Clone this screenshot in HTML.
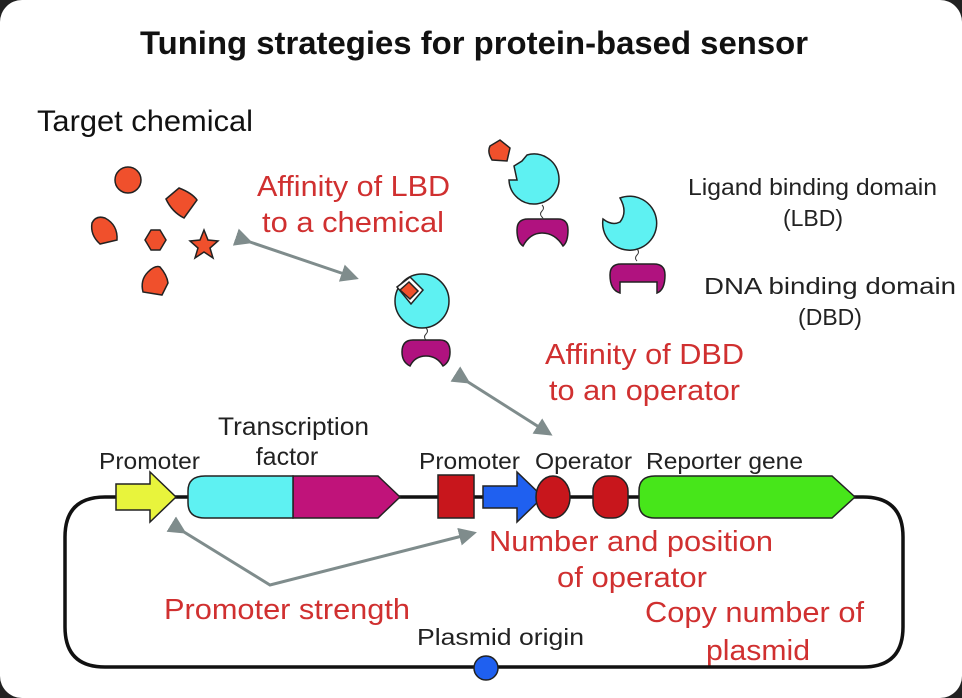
<!DOCTYPE html>
<html><head><style>
html,body{margin:0;padding:0;background:#222;}
svg{display:block}
text{font-family:"Liberation Sans",sans-serif;}
</style></head><body>
<svg width="962" height="698" viewBox="0 0 962 698" xmlns="http://www.w3.org/2000/svg">
<defs>
<marker id="ah" markerWidth="6" markerHeight="6" refX="5" refY="3" orient="auto" markerUnits="strokeWidth">
<path d="M0,0 L6,3 L0,6 z" fill="#7f8c8c"/></marker>
</defs>
<rect x="0" y="0" width="962" height="698" rx="22" fill="#fff"/>
<text x="474" y="54" font-size="32" font-weight="bold" text-anchor="middle" fill="#111" textLength="668" lengthAdjust="spacingAndGlyphs">Tuning strategies for protein-based sensor</text>
<text x="37" y="131" font-size="30" fill="#111" textLength="216" lengthAdjust="spacingAndGlyphs">Target chemical</text>
<g fill="#222" font-size="23">
<text x="688" y="195" textLength="249" lengthAdjust="spacingAndGlyphs">Ligand binding domain</text>
<text x="813" y="226" text-anchor="middle">(LBD)</text>
<text x="704" y="294" textLength="252" lengthAdjust="spacingAndGlyphs">DNA binding domain</text>
<text x="830" y="325" text-anchor="middle">(DBD)</text>
<text x="99" y="469" textLength="101" lengthAdjust="spacingAndGlyphs">Promoter</text>
<text x="218" y="435" font-size="25" textLength="151" lengthAdjust="spacingAndGlyphs">Transcription</text>
<text x="287" y="465" text-anchor="middle" font-size="25">factor</text>
<text x="419" y="469" textLength="101" lengthAdjust="spacingAndGlyphs">Promoter</text>
<text x="535" y="469" textLength="97" lengthAdjust="spacingAndGlyphs">Operator</text>
<text x="646" y="469" textLength="157" lengthAdjust="spacingAndGlyphs">Reporter gene</text>
<text x="417" y="645" textLength="167" lengthAdjust="spacingAndGlyphs">Plasmid origin</text>
</g>
<g fill="#d03030" font-size="29">
<text x="257" y="196" textLength="193" lengthAdjust="spacingAndGlyphs">Affinity of LBD</text>
<text x="262" y="232" textLength="182" lengthAdjust="spacingAndGlyphs">to a chemical</text>
<text x="545" y="364" textLength="199" lengthAdjust="spacingAndGlyphs">Affinity of DBD</text>
<text x="549" y="400" textLength="191" lengthAdjust="spacingAndGlyphs">to an operator</text>
<text x="489" y="551" textLength="284" lengthAdjust="spacingAndGlyphs">Number and position</text>
<text x="557" y="587" textLength="150" lengthAdjust="spacingAndGlyphs">of operator</text>
<text x="164" y="619" textLength="246" lengthAdjust="spacingAndGlyphs">Promoter strength</text>
<text x="645" y="622" textLength="219" lengthAdjust="spacingAndGlyphs">Copy number of</text>
<text x="706" y="660" textLength="104" lengthAdjust="spacingAndGlyphs">plasmid</text>
</g>
<!-- chemicals -->
<g fill="#f0502c" stroke="#222" stroke-width="1.5">
<circle cx="128" cy="180" r="13"/>
<path d="M166,199 L179,188 Q192,193 197,200 L184,218 Q172,212 166,199 z"/>
<path d="M92,223 Q96,215 105,218 Q118,225 117,240 L100,244 Q90,235 92,223 z"/>
<path d="M145,240 L151,230 L160,230 L166,240 L160,250 L151,250 z"/>
<path d="M204,230 L208,240 L218,241 L210,248 L213,258 L204,252 L195,258 L198,248 L190,241 L200,240 z"/>
<path d="M148,272 Q155,265 160,267 Q167,275 168,283 L162,295 L143,292 Q140,280 148,272 z"/>
<path d="M490,146 L500,140 L510,148 L507,161 L492,160 Q487,152 490,146 z"/>
</g>
<!-- backbone -->
<path d="M110,497 L863,497 Q903,497 903,537 L903,627 Q903,667 863,667 L105,667 Q65,667 65,627 L65,537 Q65,497 105,497 L110,497" fill="none" stroke="#111" stroke-width="3.5"/>
<!-- proteins -->
<g stroke="#222" stroke-width="1.5">
<path d="M514,166 L522,161 L527,155 A25,25 0 1 1 509,180 L517,180 z" fill="#5ef1f2"/>
<path d="M517,230 Q517,219 528,219 L558,219 Q568,219 568,230 Q568,242 563,246 Q555,233 542,233 Q530,233 523,246 Q517,242 517,230z" fill="#b0127f"/>
<path d="M603,219 A27,27 0 1 0 620,198 Q628,212 620,222 Q612,226 603,219z" fill="#5ef1f2"/>
<path d="M610,275 Q610,264 621,264 L654,264 Q665,264 665,275 Q665,290 657,293 L657,282 L620,282 L620,293 Q610,290 610,275z" fill="#b0127f"/>
<circle cx="422" cy="301" r="27" fill="#5ef1f2"/>
<path d="M397,287 L410,277 L423,290 L411,304 z" fill="#fff" stroke="#222"/>
<path d="M400,290 L409,282 L418,291 L410,299 z" fill="#f0502c"/>
<path d="M402,352 Q402,340 413,340 L440,340 Q450,340 450,352 Q450,362 443,366 Q437,356 426,356 Q415,356 410,366 Q402,362 402,352z" fill="#b0127f"/>
</g>
<g fill="none" stroke="#333" stroke-width="1">
<path d="M542,205 q3,3 0,6 q-3,3 0,6 q2,2 0,2"/>
<path d="M637,249 q3,3 0,6 q-3,3 0,6"/>
<path d="M426,328 q3,3 0,6 q-3,3 0,6"/>
</g>
<!-- genes -->
<g stroke="#222" stroke-width="1.5">
<path d="M116,484 L150,484 L150,472 L176,497 L150,522 L150,510 L116,510 z" fill="#e8f43c"/>
<path d="M293,476 L378,476 L400,497 L378,518 L293,518 z" fill="#c0137a"/>
<path d="M293,476 L205,476 Q188,476 188,491 L188,503 Q188,518 205,518 L293,518 z" fill="#5ef1f2"/>
<rect x="438" y="475" width="36" height="43" fill="#c8161c"/>
<path d="M483,486 L517,486 L517,472 L543,497 L517,522 L517,508 L483,508 z" fill="#1f60f0"/>
<ellipse cx="553" cy="497" rx="17" ry="21" fill="#c8161c"/>
<rect x="593" y="476" width="35" height="42" rx="15" fill="#c8161c"/>
<path d="M655,476 L832,476 L855,497 L832,518 L655,518 Q639,518 639,503 L639,491 Q639,476 655,476z" fill="#47e61a"/>
<circle cx="486" cy="668" r="12" fill="#1f60f0"/>
</g>
<!-- arrows -->
<g stroke="#7f8c8c" stroke-width="3" fill="none">
<line x1="250" y1="242" x2="356" y2="278" marker-end="url(#ah)" marker-start="url(#ah)"/>
<line x1="468" y1="382" x2="550" y2="434" marker-end="url(#ah)" marker-start="url(#ah)"/>
<polyline points="184,532 270,585 474,533" marker-start="url(#ah)" marker-end="url(#ah)"/>
</g>
</svg>
</body></html>
